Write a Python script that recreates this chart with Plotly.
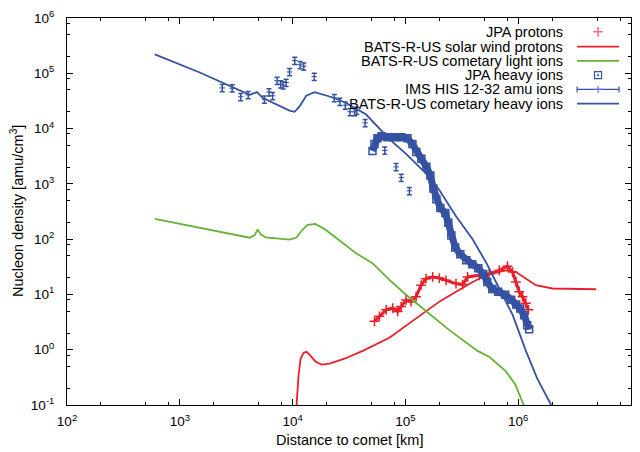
import plotly.graph_objects as go

# ---------------- data ----------------
# JPA protons
jpa_p_x = [53170, 58880, 67500, 77200, 85500, 91600, 101400, 112200, 124400, 137700,
           152400, 174500, 199900, 229200, 281000, 321500, 355800, 451800, 553000,
           679200, 804000, 891000, 955000, 1021000, 1092000, 1170000, 1233000]
jpa_p_y = [3.27, 4.01, 5.27, 5.63, 4.92, 6.04, 7.94, 7.41, 9.10, 14.7,
           19.3, 20.7, 19.8, 18.0, 15.7, 15.1, 20.7, 22.2, 23.7,
           27.2, 32.5, 25.4, 16.8, 11.2, 9.10, 6.92, 5.27]

# BATS-R-US solar wind protons
sw_x = [10640, 10840, 11290, 11770, 12510, 13300, 14420, 15990, 18060, 21250, 28840,
        41880, 72100, 124400, 199900, 281000, 394500, 517700, 778000, 955000,
        1170000, 1435000, 2014000, 3467000, 4898000]
sw_y = [0.075, 0.1, 0.342, 0.687, 0.879, 0.914, 0.776, 0.607, 0.537, 0.560, 0.687,
        0.953, 1.64, 3.74, 7.41, 11.2, 16.8, 22.2, 27.2, 25.4,
        19.3, 14.7, 12.8, 12.5, 12.4]

# BATS-R-US cometary light ions
light_x = [601, 4159, 4613, 4898, 5212, 5768, 9397, 10840, 12010, 13580, 15990, 19600,
           26060, 36620, 51080, 72100, 101400, 152400, 245000, 436300, 553000, 767000,
           940000, 1119000, 1178000]
light_y = [232, 106, 118, 150, 122, 108, 98.2, 106.7, 142, 181.5, 189, 148,
           94.2, 55.3, 36.7, 18.3, 9.88, 4.92, 2.26, 0.953, 0.746, 0.420,
           0.237, 0.1, 0.075]

# JPA heavy ions
jpa_h_x = [51080, 53170, 56540, 61380, 69340, 79980, 92250, 104200, 115400, 125100,
           138600, 153500, 166400, 177000, 188100, 204000, 226000, 240400, 255400,
           276900, 306700, 346700, 391700, 442600, 489800, 532100, 588800, 665000,
           767300, 867000, 960000, 1041000, 1129000, 1201000, 1251000]
jpa_h_y = [3940, 5250, 6710, 7290, 7000, 7000, 7000, 6710, 5250, 3780,
           2840, 2040, 1410, 828, 527, 365, 297, 197, 116,
           70.8, 53.1, 41.5, 35.2, 29.9, 23.4, 16.8, 12.6, 11.2,
           9.88, 8.05, 6.56, 5.56, 4.18, 2.77, 2.35]

# IMS HIS 12-32 amu ions
ims_x = [2377, 2916, 3467, 4038, 5623, 6180, 6653, 7295, 7834, 8245, 8757, 9397,
         10450, 11640, 12560, 15560, 23440, 26240, 29310, 32270, 35380, 37070,
         43990, 65620, 82780, 91840, 108500]
ims_y = [54350, 53700, 37600, 40800, 33900, 45800, 39200, 73600, 63500, 60950, 68100,
         105700, 170200, 142600, 134000, 87100, 35800, 30900, 26400, 20140, 20050,
         21180, 12680, 4018, 2028, 1300, 748]
ims_err_pct = 15

# BATS-R-US cometary heavy ions
heavy_x = [601, 1503, 4159, 4831, 5458, 9397, 10410, 11530, 13220, 15660, 22760, 29870,
           44870, 60950, 72100, 101400, 152400, 199900, 281000, 394500, 517700, 679200,
           891000, 1170000, 1472000, 1959000, 2124000]
heavy_y = [219000, 103500, 40800, 45600, 35600, 21200, 20100, 25200, 39200, 45600, 36500,
           29000, 17950, 9060, 6440, 3480, 1535, 773, 259, 99.3, 38.3, 12.8,
           4.30, 0.953, 0.303, 0.1, 0.075]

x_ticks = [1e2, 1e3, 1e4, 1e5, 1e6, 1e7]
x_ticktext = ["10<sup>2</sup>", "10<sup>3</sup>", "10<sup>4</sup>", "10<sup>5</sup>",
              "10<sup>6</sup>", "10<sup>7</sup>"]
y_ticks = [1e-1, 1e0, 1e1, 1e2, 1e3, 1e4, 1e5, 1e6]
y_ticktext = ["10<sup>-1</sup>", "10<sup>0</sup>", "10<sup>1</sup>", "10<sup>2</sup>",
              "10<sup>3</sup>", "10<sup>4</sup>", "10<sup>5</sup>", "10<sup>6</sup>"]

legend_labels = ["JPA protons", "BATS-R-US solar wind protons",
                 "BATS-R-US cometary light ions", "JPA heavy ions",
                 "IMS HIS 12-32 amu ions", "BATS-R-US cometary heavy ions"]

# ---------------- style ----------------
RED = "#e8202a"
GREEN = "#66b236"
BLUE = "#3552a2"
FONT = "Liberation Sans, Arial, Helvetica, sans-serif"

W, H = 640, 452
L, R, T, B = 67, 632, 12, 405   # plot area edges in pixels


def paper_x(p):
    return (p - L) / (R - L)


def paper_y(p):
    return (B - p) / (B - T)


fig = go.Figure()

fig.add_trace(go.Scatter(
    x=jpa_p_x, y=jpa_p_y, mode="lines+markers",
    line=dict(color=RED, width=3),
    marker=dict(symbol="cross-thin-open", size=7, color=RED, line=dict(width=1.5, color=RED)),
))
fig.add_trace(go.Scatter(x=sw_x, y=sw_y, mode="lines", line=dict(color=RED, width=1.8)))
fig.add_trace(go.Scatter(x=light_x, y=light_y, mode="lines", line=dict(color=GREEN, width=1.8)))
fig.add_trace(go.Scatter(
    x=jpa_h_x, y=jpa_h_y, mode="lines+markers",
    line=dict(color=BLUE, width=7),
    marker=dict(symbol="square-open", size=7, color=BLUE, line=dict(width=1.5, color=BLUE)),
))
fig.add_trace(go.Scatter(
    x=ims_x, y=ims_y, mode="markers",
    marker=dict(symbol="line-ew-open", size=4, color=BLUE, line=dict(width=1, color=BLUE)),
    error_y=dict(type="percent", value=ims_err_pct, color=BLUE, thickness=1.5, width=2.5),
))
fig.add_trace(go.Scatter(x=heavy_x, y=heavy_y, mode="lines", line=dict(color=BLUE, width=1.8)))

# ---------------- key (text on the left, sample on the right) ----------------
rows = [26, 41, 55.5, 70, 84.5, 99]
sx0, sx1, sxc = 578, 620, 599
key = dict(xaxis="x2", yaxis="y2", showlegend=False, hoverinfo="skip")
fig.add_trace(go.Scatter(x=[sxc], y=[rows[0]], mode="markers",
                         marker=dict(symbol="cross-thin-open", size=7,
                                     line=dict(width=1.5, color=RED)), **key))
fig.add_trace(go.Scatter(x=[sx0, sx1], y=[rows[1]] * 2, mode="lines",
                         line=dict(color=RED, width=1.8), **key))
fig.add_trace(go.Scatter(x=[sx0, sx1], y=[rows[2]] * 2, mode="lines",
                         line=dict(color=GREEN, width=1.8), **key))
fig.add_trace(go.Scatter(x=[sxc], y=[rows[3]], mode="markers",
                         marker=dict(symbol="square-open-dot", size=7, color=BLUE,
                                     line=dict(width=1.2, color=BLUE)), **key))
fig.add_trace(go.Scatter(x=[sxc], y=[rows[4]], mode="markers",
                         marker=dict(symbol="cross-thin-open", size=5,
                                     line=dict(width=1.2, color=BLUE)),
                         error_x=dict(type="constant", value=(sx1 - sx0) / 2, color=BLUE,
                                      thickness=1.2, width=3), **key))
fig.add_trace(go.Scatter(x=[sx0, sx1], y=[rows[5]] * 2, mode="lines",
                         line=dict(color=BLUE, width=1.8), **key))

annotations = []
for lab, ry in zip(legend_labels, rows):
    annotations.append(dict(text=lab, x=paper_x(566), y=paper_y(ry), xref="paper", yref="paper",
                            xanchor="right", yanchor="middle", showarrow=False,
                            font=dict(family=FONT, size=14.5, color="black")))
annotations.append(dict(text="Distance to comet [km]", x=0.5, y=paper_y(441),
                        xref="paper", yref="paper", xanchor="center", yanchor="middle",
                        showarrow=False, font=dict(family=FONT, size=14.5, color="black")))
annotations.append(dict(text="Nucleon density [amu/cm<sup>3</sup>]", x=paper_x(17),
                        y=paper_y(208), xref="paper", yref="paper", xanchor="center",
                        yanchor="middle", textangle=-90, showarrow=False,
                        font=dict(family=FONT, size=14.5, color="black")))

axis_common = dict(
    type="log", showgrid=False, zeroline=False, showline=True, linecolor="black",
    linewidth=1, mirror="allticks", ticks="inside", ticklen=6, tickwidth=1,
    tickcolor="black", tickmode="array",
    tickfont=dict(family=FONT, size=13.5, color="black"),
)
x_minor = [m * 10 ** e for e in range(2, 7) for m in (2, 5, 8)]
y_minor = [m * 10 ** e for e in range(-1, 6) for m in (2, 5, 8)]

fig.update_layout(
    width=W, height=H,
    margin=dict(l=L, r=W - R, t=T, b=H - B),
    paper_bgcolor="white", plot_bgcolor="white",
    showlegend=False,
    xaxis=dict(range=[2, 7], tickvals=x_ticks, ticktext=x_ticktext,
               minor=dict(tickmode="array", tickvals=x_minor, ticks="inside", ticklen=3,
                          tickcolor="black", showgrid=False),
               ticklabelstandoff=4, **axis_common),
    yaxis=dict(range=[-1, 6], tickvals=y_ticks, ticktext=y_ticktext,
               minor=dict(tickmode="array", tickvals=y_minor, ticks="inside", ticklen=3,
                          tickcolor="black", showgrid=False),
               ticklabelstandoff=9, **axis_common),
    xaxis2=dict(range=[L, R], overlaying="x", anchor="y2", visible=False, domain=[0, 1]),
    yaxis2=dict(range=[B, T], overlaying="y", anchor="x2", visible=False, domain=[0, 1]),
    annotations=annotations,
)

fig.write_html("out.html")
